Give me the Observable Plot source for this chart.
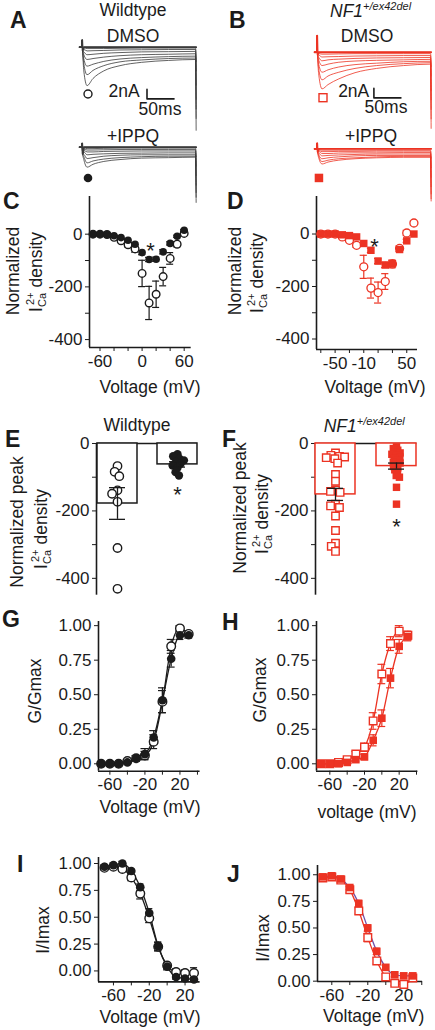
<!DOCTYPE html>
<html><head><meta charset="utf-8">
<script src="https://cdn.jsdelivr.net/npm/d3@7"></script>
<script src="https://cdn.jsdelivr.net/npm/@observablehq/plot@0.6"></script>
<style>
body{margin:0;background:#fff;}
#fig{position:relative;width:435px;height:1030px;overflow:hidden;background:#fff;font-family:"Liberation Sans",Arial,sans-serif;}
</style></head><body><div id="fig"></div>
<script>
// ---------------- DATA ----------------
// A/B: current traces (nA) sampled at these times (ms)
const traceTimes = [-5, -0.5, 0, 0.8, 3, 9, 20, 40, 70, 110, 160, 210, 211];
const wtDmsoTraces = [
  [0,0,1.5,-0.7,0,0,0,0,0,0,0,0,0],
  [0,0,1.5,-0.7,-0.2,-0.3,-0.3,-0.3,-0.25,-0.2,-0.2,-0.2,-3],
  [0,0,1.5,-0.7,-0.5,-0.8,-0.75,-0.7,-0.6,-0.55,-0.5,-0.5,-5],
  [0,0,1.5,-0.7,-1.0,-1.6,-1.5,-1.3,-1.15,-1.0,-0.95,-0.9,-8],
  [0,0,1.5,-0.7,-1.6,-2.6,-2.4,-2.1,-1.8,-1.6,-1.5,-1.4,-11],
  [0,0,1.5,-0.7,-2.5,-4.0,-3.6,-3.0,-2.5,-2.2,-2.0,-1.9,-13],
  [0,0,1.5,-0.7,-3.5,-5.8,-4.9,-3.9,-3.1,-2.7,-2.4,-2.3,-15],
  [0,0,1.5,-0.7,-5.0,-8.1,-6.6,-5.0,-3.9,-3.2,-2.8,-2.6,-17.5]
];
const wtIppqTraces = [
  [0,0,0.8,-1.4,0,0,0,0,0,0,0,0,0],
  [0,0,0.8,-1.4,-0.2,-0.3,-0.3,-0.25,-0.2,-0.2,-0.2,-0.2,-2],
  [0,0,0.8,-1.4,-0.4,-0.6,-0.6,-0.55,-0.5,-0.5,-0.5,-0.5,-4],
  [0,0,0.8,-1.4,-0.7,-1.0,-1.0,-0.9,-0.85,-0.8,-0.8,-0.8,-6],
  [0,0,0.8,-1.4,-1.0,-1.6,-1.5,-1.4,-1.3,-1.25,-1.2,-1.2,-8],
  [0,0,0.8,-1.4,-1.5,-2.4,-2.2,-1.9,-1.7,-1.6,-1.6,-1.6,-9.5],
  [0,0,0.8,-1.4,-2.0,-3.3,-2.9,-2.5,-2.2,-2.0,-1.9,-1.9,-10.5],
  [0,0,0.8,-1.4,-2.6,-4.2,-3.6,-3.0,-2.6,-2.3,-2.2,-2.1,-11.6]
];
const nfDmsoTraces = [
  [0,0,3.5,-0.5,0,0,0,0,0,0,0,0,0],
  [0,0,3.5,-0.5,-0.3,-0.4,-0.4,-0.35,-0.3,-0.3,-0.3,-0.3,-3],
  [0,0,3.5,-0.5,-0.6,-1.0,-0.95,-0.9,-0.8,-0.75,-0.7,-0.7,-5],
  [0,0,3.5,-0.5,-1.1,-1.8,-1.6,-1.45,-1.3,-1.2,-1.15,-1.1,-8],
  [0,0,3.5,-0.5,-1.7,-2.8,-2.5,-2.1,-1.85,-1.7,-1.6,-1.5,-10],
  [0,0,3.5,-0.5,-2.6,-4.2,-3.7,-3.1,-2.6,-2.3,-2.0,-1.9,-12],
  [0,0,3.5,-0.5,-3.6,-5.8,-5.0,-4.2,-3.4,-2.8,-2.4,-2.2,-14],
  [0,0,3.5,-0.5,-4.8,-7.7,-6.8,-5.6,-4.3,-3.4,-2.8,-2.5,-16]
];
const nfIppqTraces = [
  [0,0,1.2,-0.6,0,0,0,0,0,0,0,0,0],
  [0,0,1.2,-0.6,-0.2,-0.3,-0.3,-0.3,-0.3,-0.3,-0.3,-0.3,-2],
  [0,0,1.2,-0.6,-0.4,-0.6,-0.6,-0.55,-0.55,-0.5,-0.5,-0.5,-4],
  [0,0,1.2,-0.6,-0.6,-1.0,-1.0,-0.9,-0.85,-0.85,-0.8,-0.8,-6],
  [0,0,1.2,-0.6,-0.9,-1.5,-1.4,-1.3,-1.2,-1.1,-1.1,-1.1,-8],
  [0,0,1.2,-0.6,-1.3,-2.1,-1.9,-1.7,-1.5,-1.4,-1.4,-1.4,-9.5],
  [0,0,1.2,-0.6,-1.6,-2.7,-2.4,-2.1,-1.9,-1.7,-1.6,-1.6,-10.5],
  [0,0,1.2,-0.6,-2.0,-3.2,-2.8,-2.4,-2.1,-1.9,-1.8,-1.8,-11]
];
const scaleBarNA = 2, scaleBarMS = 50;

// C/D: normalized I-V (voltage mV)
const ivVolts = [-70,-60,-50,-40,-30,-20,-10,0,10,20,30,40,50,60];
const wtDmsoIV    = [0,0,-1,-12,-25,-40,-56,-149,-261,-228,-161,-92,-38,3];
const wtDmsoIVErr = [0,0,1,4,6,8,12,50,63,50,35,22,10,8];
const wtIppqIV    = [0,0,-1,-6,-13,-23,-38,-70,-96,-95,-67,-35,-8,15];
const wtIppqIVErr = [0,0,1,2,3,4,6,8,8,8,8,6,4,3];
const nfDmsoIV    = [0,0,0,-11,-24,-43,-125,-206,-223,-181,-114,-55,4,42];
const nfDmsoIVErr = [0,0,0,3,5,8,44,38,40,30,15,10,10,8];
const nfIppqIV    = [0,0,0,-3,-6,-11,-36,-62,-103,-118,-113,-59,-26,0];
const nfIppqIVErr = [0,0,0,2,3,4,6,8,10,10,12,8,6,4];
const ivStarWT = [{v: 12, y: -43}];
const ivStarNF = [{v: 5, y: -30}];

// E/F: peak density per cell
const wtDmsoPeak = [-67,-84,-97,-139,-149,-173,-310,-431];
const wtIppqPeak = [-32,-38,-45,-50,-55,-60,-65,-72,-85,-95];
const nfDmsoPeak = [-28,-35,-38,-40,-42,-45,-58,-92,-112,-138,-142,-145,-180,-185,-190,-215,-258,-296,-305,-320];
const nfIppqPeak = [-10,-15,-20,-25,-28,-32,-36,-40,-45,-50,-55,-58,-62,-68,-72,-78,-85,-95,-100,-130,-180];
const peakGroups = ["DMSO", "IPPQ"];
const wtPeakMean = [-178, -62], wtPeakSem = [47, 8];
const nfPeakMean = [-151, -67], nfPeakSem = [18, 9];
const peakStarWT = [{g: "IPPQ", y: -139}];
const peakStarNF = [{g: "IPPQ", y: -232}];

// G/H activation, I/J inactivation
const gvVolts = [-70,-60,-50,-40,-30,-20,-10,0,10,20,30];
const wtDmsoAct    = [0,0,0,0.02,0.04,0.06,0.16,0.45,0.85,0.98,0.94];
const wtDmsoActErr = [0,0,0,0.01,0.02,0.03,0.05,0.08,0.05,0.02,0.02];
const wtIppqAct    = [0,0,0,0.01,0.04,0.07,0.19,0.46,0.76,0.93,0.93];
const wtIppqActErr = [0,0,0,0.01,0.02,0.04,0.05,0.09,0.06,0.03,0.02];
const nfDmsoAct    = [0,0,0.01,0.03,0.07,0.12,0.31,0.65,0.87,0.96,0.93];
const nfDmsoActErr = [0,0,0.01,0.01,0.02,0.03,0.06,0.07,0.05,0.04,0.03];
const nfIppqAct    = [0,0,0,0.01,0.03,0.05,0.17,0.33,0.62,0.85,0.92];
const nfIppqActErr = [0,0,0,0.01,0.01,0.02,0.04,0.06,0.07,0.05,0.03];
const wtDmsoInact    = [0.96,0.97,0.95,0.87,0.72,0.49,0.225,0.05,-0.01,-0.02,-0.02];
const wtDmsoInactErr = [0.02,0.02,0.02,0.03,0.05,0.04,0.04,0.03,0.03,0.03,0.05];
const wtIppqInact    = [0.97,0.985,1.0,0.93,0.78,0.54,0.23,0.04,-0.056,-0.07,-0.08];
const wtIppqInactErr = [0.02,0.02,0.02,0.02,0.03,0.04,0.04,0.03,0.02,0.02,0.02];
const nfDmsoInact    = [0.97,0.98,0.95,0.86,0.66,0.41,0.19,0.04,-0.02,-0.03,0.03];
const nfDmsoInactErr = [0.02,0.02,0.02,0.03,0.03,0.04,0.03,0.03,0.02,0.02,0.02];
const nfIppqInact    = [0.98,0.99,0.96,0.88,0.73,0.50,0.28,0.13,0.06,0.05,0.05];
const nfIppqInactErr = [0.02,0.02,0.02,0.02,0.03,0.03,0.03,0.02,0.02,0.02,0.02];

// ---------------- DRAWING ----------------
const fig = document.getElementById("fig");
const INK = "#1b1b1b", RED = "#ec3323", PURPLE = "#6f4ea8";
const FONT = '"Liberation Sans", Arial, sans-serif';
const baseStyle = {background: "transparent", overflow: "visible", fontFamily: FONT, fontSize: "17px", color: INK};

function mount(svg, left, top) {
  svg.style.position = "absolute";
  svg.style.left = left + "px";
  svg.style.top = top + "px";
  svg.style.maxWidth = "none";
  fig.appendChild(svg);
}
function panel(frame, opts) {
  const [l, r, t, b] = frame;
  const ml = 70, mr = 20, mt = 12, mb = 34;
  const svg = Plot.plot(Object.assign({
    width: r - l + ml + mr, height: b - t + mt + mb,
    marginLeft: ml, marginRight: mr, marginTop: mt, marginBottom: mb,
    style: baseStyle
  }, opts));
  mount(svg, l - ml, t - mt);
}
function axis(domain, ticks, labels, fmt = String) {
  return {domain, ticks, tickSize: 4, tickPadding: 3, label: null,
          tickFormat: d => labels.includes(d) ? fmt(d) : ""};
}
function frameLines(xd, yd) {
  return [Plot.ruleX([xd[0]], {stroke: INK, strokeWidth: 1.6}),
          Plot.ruleY([yd[0]], {stroke: INK, strokeWidth: 1.6})];
}
function errMarks(rows, yk, ek, color, half) {
  const rs = rows.filter(d => d[ek] > 0);
  const o = {stroke: color, strokeWidth: 1.2};
  return [
    Plot.ruleX(rs, {...o, x: "v", y1: d => d[yk] - d[ek], y2: d => d[yk] + d[ek]}),
    Plot.ruleY(rs, {...o, y: d => d[yk] - d[ek], x1: d => d.v - half, x2: d => d.v + half}),
    Plot.ruleY(rs, {...o, y: d => d[yk] + d[ek], x1: d => d.v - half, x2: d => d.v + half})
  ];
}
function rows2(volts, a, ae, b, be) {
  return volts.map((v, i) => ({v, o: a[i], oe: ae[i], f: b[i], fe: be[i]}));
}

// ---- A / B traces ----
function traces(sets, color, left, top, height, yd, bar) {
  const rows = sets.flatMap((tr, k) => tr.map((v, i) => ({t: traceTimes[i], v, id: k})));
  const marks = [
    Plot.line(rows, {x: "t", y: "v", z: "id", stroke: color, strokeWidth: 0.8, curve: "monotone-x"}),
    Plot.line(rows.filter(d => d.id === 0), {x: "t", y: "v", stroke: color, strokeWidth: 1.8})
  ];
  if (bar) {
    marks.push(Plot.line([
      {t: bar.t, v: bar.v + scaleBarNA}, {t: bar.t, v: bar.v}, {t: bar.t + scaleBarMS, v: bar.v}
    ], {x: "t", y: "v", stroke: INK, strokeWidth: 1.6}));
  }
  const svg = Plot.plot({
    width: 0.54 * 225, height, margin: 0,
    x: {domain: [-5, 220], axis: null}, y: {domain: yd, axis: null},
    style: baseStyle, marks
  });
  mount(svg, left, top);
}
traces(wtDmsoTraces, "#3a3a3a", 79, 30, 105, [-18.6, 3.5], {t: 120, v: -10.9});
traces(wtIppqTraces, "#3a3a3a", 79, 130, 80, [-13.3, 3.5]);
traces(nfDmsoTraces, RED, 314.3, 30, 105, [-17.5, 4.57], {t: 105, v: -9.6});
traces(nfIppqTraces, RED, 314.3, 130, 80, [-13.0, 3.85]);

// ---- C / D  I-V ----
{
  const xd = [-75, 70], yd = [-430, 143];
  const rows = rows2(ivVolts, wtDmsoIV, wtDmsoIVErr, wtIppqIV, wtIppqIVErr);
  panel([89, 190.7, 196, 347], {
    x: axis(xd, [-60,-40,-20,0,20,40,60], [-60,0,60]),
    y: axis(yd, [0,-100,-200,-300,-400], [0,-200,-400]),
    marks: [
      ...frameLines(xd, yd),
      ...errMarks(rows, "o", "oe", INK, 5),
      Plot.dot(rows, {x: "v", y: "o", r: 3.8, stroke: INK, strokeWidth: 1.4, fill: "white"}),
      ...errMarks(rows, "f", "fe", INK, 5),
      Plot.dot(rows, {x: "v", y: "f", r: 3.8, fill: INK}),
      Plot.text(ivStarWT, {x: "v", y: "y", text: () => "*", fontSize: 22, dy: 5, fill: INK})
    ]
  });
}
{
  const xd = [-76, 65], yd = [-440, 143];
  const rows = rows2(ivVolts, nfDmsoIV, nfDmsoIVErr, nfIppqIV, nfIppqIVErr);
  panel([316, 417, 196, 349], {
    x: axis(xd, [-70,-50,-30,-10,10,30,50], [-50,-10,50]),
    y: axis(yd, [0,-100,-200,-300,-400], [0,-200,-400]),
    marks: [
      ...frameLines(xd, yd),
      ...errMarks(rows, "o", "oe", RED, 5),
      Plot.dot(rows, {x: "v", y: "o", r: 4, stroke: RED, strokeWidth: 1.3, fill: "white"}),
      ...errMarks(rows, "f", "fe", RED, 5),
      Plot.dot(rows, {x: "v", y: "f", r: 4.2, symbol: "square", fill: RED}),
      Plot.text(ivStarNF, {x: "v", y: "y", text: () => "*", fontSize: 22, dy: 5, fill: INK})
    ]
  });
}

// ---- E / F  bar + scatter ----
function peakPanel(frame, dmso, ippq, means, sems, stars, color, symbol, packR) {
  const yd = [-450, 0];
  const pts = [...dmso.map(value => ({g: "DMSO", value})), ...ippq.map(value => ({g: "IPPQ", value}))];
  const summ = peakGroups.map((g, i) => ({g, mean: means[i], sem: sems[i]}));
  // axes layer
  panel(frame, {
    x: {domain: [0, 1], axis: null},
    y: axis(yd, [0,-100,-200,-300,-400], [0,-200,-400]),
    marks: [Plot.ruleX([0], {stroke: INK, strokeWidth: 1.6}), Plot.ruleY([0], {stroke: INK, strokeWidth: 1.6})]
  });
  // faceted data layer
  const eb = {fx: "g", stroke: INK, strokeWidth: 1.3};
  panel(frame, {
    fx: {domain: peakGroups, padding: 0.34, axis: null, label: null},
    x: {domain: [0, 1], axis: null},
    y: {domain: yd, axis: null},
    marks: [
      Plot.rect(summ, {fx: "g", x1: 0, x2: 1, y1: 0, y2: "mean", fill: "white", stroke: color, strokeWidth: 1.5}),
      Plot.dot(pts.filter(d => d.g === "DMSO"), Plot.dodgeX({anchor: "middle", padding: 0, r: packR[0]},
        {fx: "g", y: "value", r: 4.2, symbol, stroke: color, strokeWidth: 1.4, fill: "white"})),
      Plot.dot(pts.filter(d => d.g === "IPPQ"), Plot.dodgeX({anchor: "middle", padding: 0, r: packR[1]},
        {fx: "g", y: "value", r: 4.2, symbol, fill: color})),
      Plot.ruleX(summ, {...eb, x: 0.5, y1: d => d.mean - d.sem, y2: d => d.mean + d.sem}),
      Plot.ruleY(summ, {...eb, y: d => d.mean - d.sem, x1: 0.3, x2: 0.7}),
      Plot.ruleY(summ, {...eb, y: d => d.mean + d.sem, x1: 0.3, x2: 0.7}),
      Plot.text(stars, {fx: "g", x: 0.5, y: "y", text: () => "*", fontSize: 22, dy: 5, fill: INK})
    ]
  });
}
peakPanel([95.7, 196.7, 443.3, 595], wtDmsoPeak, wtIppqPeak, wtPeakMean, wtPeakSem, peakStarWT, INK, "circle", [3.2, 2.4]);
peakPanel([314.7, 416, 443.3, 595], nfDmsoPeak, nfIppqPeak, nfPeakMean, nfPeakSem, peakStarNF, RED, "square", [2.6, 1.8]);

// ---- G/H/I/J  Boltzmann panels ----
const f2 = d3.format(".2f");
function boltzPanel(frame, xd, yd, rows, color, symbol, fitColors, half) {
  panel(frame, {
    x: axis(xd, [-60,-40,-20,0,20,40].filter(t => t <= xd[1]), [-60,-20,20]),
    y: axis(yd, [0,0.25,0.5,0.75,1], [0,0.25,0.5,0.75,1], f2),
    marks: [
      ...frameLines(xd, yd),
      Plot.line(rows, {x: "v", y: "o", curve: "monotone-x", stroke: fitColors[0], strokeWidth: 1.3}),
      Plot.line(rows, {x: "v", y: "f", curve: "monotone-x", stroke: fitColors[1], strokeWidth: 1.3}),
      ...errMarks(rows, "o", "oe", color, half),
      ...errMarks(rows, "f", "fe", color, half),
      Plot.dot(rows, {x: "v", y: "o", r: 4.3, symbol, stroke: color, strokeWidth: 1.4, fill: "white"}),
      Plot.dot(rows, {x: "v", y: "f", r: 4.3, symbol, fill: color})
    ]
  });
}
boltzPanel([97.7, 199.3, 621, 770.7], [-73, 43], [-0.0535, 1.03],
  rows2(gvVolts, wtDmsoAct, wtDmsoActErr, wtIppqAct, wtIppqActErr), INK, "circle", [INK, INK], 4.5);
boltzPanel([316.3, 417.7, 621, 770.7], [-75.4, 41.6], [-0.0535, 1.03],
  rows2(gvVolts, nfDmsoAct, nfDmsoActErr, nfIppqAct, nfIppqActErr), RED, "square", [RED, RED], 4.5);
boltzPanel([97.7, 199.3, 857.3, 981.7], [-76.7, 36.8], [-0.102, 1.056],
  rows2(gvVolts, wtDmsoInact, wtDmsoInactErr, wtIppqInact, wtIppqInactErr), INK, "circle", [INK, INK], 4);
boltzPanel([317, 422, 865, 981], [-75.9, 40.8], [-0.003, 1.087],
  rows2(gvVolts, nfDmsoInact, nfDmsoInactErr, nfIppqInact, nfIppqInactErr), RED, "square", [RED, PURPLE], 4);

// ---------------- TEXT OVERLAY ----------------
const ov = d3.create("svg").attr("width", 435).attr("height", 1030)
  .style("position", "absolute").style("left", "0px").style("top", "0px")
  .style("font-family", FONT).style("overflow", "visible");
const T = 17.5;
function txt(x, y, s, o = {}) {
  return ov.append("text").attr("x", x).attr("y", y).attr("text-anchor", o.anchor || "middle")
    .attr("font-size", o.size || T).attr("font-weight", o.weight || "normal")
    .attr("font-style", o.italic ? "italic" : "normal").attr("fill", INK).text(s);
}
function nf1(x, y) {
  const t = ov.append("text").attr("x", x).attr("y", y).attr("font-size", T)
    .attr("font-style", "italic").attr("fill", INK);
  t.append("tspan").text("NF1");
  t.append("tspan").attr("font-size", 11).attr("dy", -7).text("+/ex42del");
}
function rotText(x, y, s) {
  ov.append("text").attr("transform", `translate(${x},${y}) rotate(-90)`)
    .attr("text-anchor", "middle").attr("font-size", T).attr("fill", INK).text(s);
}
function icaText(x, y) {
  const t = ov.append("text").attr("transform", `translate(${x},${y}) rotate(-90)`)
    .attr("text-anchor", "middle").attr("font-size", T).attr("fill", INK);
  t.append("tspan").text("I");
  t.append("tspan").attr("font-size", 11).attr("dy", 4).text("Ca");
  t.append("tspan").attr("font-size", 11).attr("dx", -12).attr("dy", -12).text("2+");
  t.append("tspan").attr("dy", 8).text(" density");
}
// panel letters
[["A",10,28],["B",229,28],["C",3,209],["D",227,209],["E",5,447],["F",222,447],
 ["G",2,627],["H",222,630],["I",17,872],["J",227,882]]
  .forEach(([s,x,y]) => txt(x, y, s, {anchor: "start", size: 23, weight: "bold"}));
// A / B annotations
txt(133, 16, "Wildtype"); txt(133, 41.7, "DMSO"); txt(124, 97, "2nA"); txt(160, 115, "50ms"); txt(133, 142, "+IPPQ");
nf1(330, 16.7); txt(367, 41.7, "DMSO"); txt(353.7, 96.7, "2nA"); txt(386, 113.3, "50ms"); txt(371, 141.7, "+IPPQ");
ov.append("circle").attr("cx", 88).attr("cy", 94).attr("r", 4).attr("fill", "white").attr("stroke", INK).attr("stroke-width", 1.4);
ov.append("circle").attr("cx", 88).attr("cy", 178).attr("r", 4.3).attr("fill", INK);
ov.append("rect").attr("x", 319).attr("y", 93.7).attr("width", 8).attr("height", 8).attr("fill", "white").attr("stroke", RED).attr("stroke-width", 1.4);
ov.append("rect").attr("x", 314.7).attr("y", 173.7).attr("width", 8.5).attr("height", 8.5).attr("fill", RED);
// C / D
rotText(19, 271, "Normalized"); icaText(42, 272);
rotText(241, 271, "Normalized"); icaText(263, 273);
txt(150, 392.7, "Voltage (mV)"); txt(375, 392.7, "Voltage (mV)");
// E / F
txt(137, 431, "Wildtype"); nf1(323.7, 431.7);
rotText(23, 522, "Normalized peak"); icaText(47, 529);
rotText(246, 508, "Normalized peak"); icaText(268, 514);
// G / H
rotText(41, 691, "G/Gmax"); rotText(266, 690, "G/Gmax");
txt(150, 813, "Voltage (mV)"); txt(367, 818.3, "voltage (mV)");
// I / J
rotText(49, 930, "I/Imax"); rotText(269, 938, "I/Imax");
txt(150, 1022.7, "Voltage (mV)"); txt(373.7, 1021.7, "Voltage (mV)");
fig.appendChild(ov.node());
</script></body></html>
